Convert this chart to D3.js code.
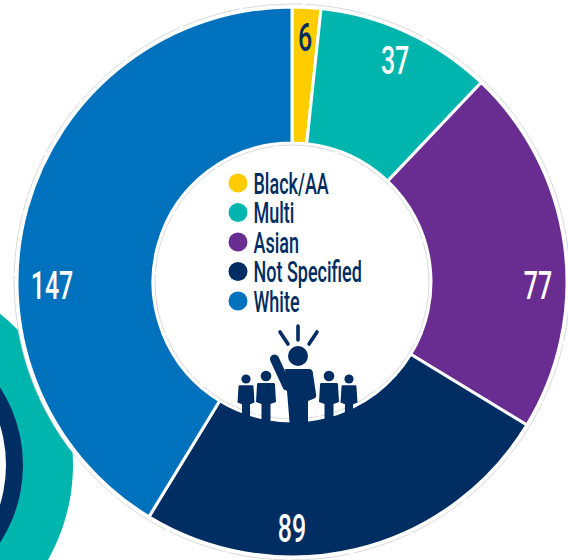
<!DOCTYPE html>
<html>
<head>
<meta charset="utf-8">
<script src="https://cdnjs.cloudflare.com/ajax/libs/d3/7.8.5/d3.min.js"></script>
<style>
html, body { margin: 0; padding: 0; background: #fff; overflow: hidden; }
text { font-family: Roboto, "Liberation Sans", sans-serif; }
</style>
</head>
<body>
<div id="svg"></div>
<script>
/* jshint esversion: 6 */
const categories = ["Black/AA", "Multi", "Asian", "Not Specified", "White"];
const values = [6, 37, 77, 89, 147];
const sliceColors = ["#FFCC00", "#00B5AD", "#692C90", "#002D62", "#0071BC"];
const labelColors = ["#002D62", "#fff", "#fff", "#fff", "#fff"];

const width = 568,
			height = 560;
const cx = 292,
			cy = 282,
			outerRadius = 275,
			innerRadius = 139;

const svg = d3.select("#svg").append("svg")
		.attr("width", width)
		.attr("height", height)
		.style("display", "block");

//// Rings cropped by the left edge, behind the donut
const rings = svg.append("g").attr("transform", "translate(-120, 465)");
rings.append("circle").attr("r", 193).attr("fill", "#00B5AD");
rings.append("circle").attr("r", 143).attr("fill", "#002D62");
rings.append("circle").attr("cx", -10).attr("r", 136).attr("fill", "#fff");

//// Donut
const pie = d3.pie().sort(null).value(d => d);
const arcs = pie(values);
const arc = d3.arc().innerRadius(innerRadius).outerRadius(outerRadius);
const chart = svg.append("g").attr("transform", `translate(${cx}, ${cy})`);

chart.append("circle").attr("r", outerRadius + 3).attr("fill", "#fff")
		.attr("stroke", "#cfcfcf").attr("stroke-width", 0.8).attr("stroke-dasharray", "60 3");

chart.selectAll(".slice")
	.data(arcs)
	.enter().append("path")
		.attr("class", "slice")
		.attr("d", arc)
		.attr("fill", (d, i) => sliceColors[i])
		.attr("stroke", "#fff")
		.attr("stroke-width", 3);

chart.append("circle").attr("r", innerRadius - 2).attr("fill", "#fff")
		.attr("stroke", "#cfcfcf").attr("stroke-width", 0.8).attr("stroke-dasharray", "60 3");

// Big slices keep their number on the nearest axis, small ones at mid slice
function labelAngle(d) {
	const mid = (d.startAngle + d.endAngle) / 2;
	if (d.endAngle - d.startAngle < 1) return mid;
	return Math.round(mid / (Math.PI / 2)) * (Math.PI / 2);
}

chart.selectAll(".value")
	.data(arcs)
	.enter().append("text")
		.attr("class", "value")
		.attr("transform", d => {
			const a = labelAngle(d);
			const r = outerRadius - 29 - (d.value >= 100 ? 6 : 0); // three digits need more room
			const x = r * Math.sin(a);
			const y = -r * Math.cos(a) + 3 * Math.abs(Math.sin(a));
			return `translate(${x}, ${y}) scale(0.64, 1)`;
		})
		.attr("text-anchor", "middle")
		.attr("dy", "0.36em")
		.attr("font-size", 39)
		.attr("font-weight", 500)
		.attr("fill", (d, i) => labelColors[i])
		.text(d => d.value);

//// Legend
const legendY = d3.scalePoint().domain(categories).range([183, 301]);
const legend = svg.selectAll(".legend")
	.data(categories)
	.enter().append("g")
		.attr("class", "legend")
		.attr("transform", d => `translate(238, ${legendY(d)})`);
legend.append("circle")
		.attr("r", 9.5)
		.attr("fill", (d, i) => sliceColors[i]);
legend.append("text")
		.attr("transform", "translate(15.5, 0) scale(0.6, 1)")
		.attr("dy", "0.36em")
		.attr("font-size", 30)
		.attr("font-weight", 500)
		.attr("fill", "#002D62")
		.text(d => d);

//// People icon
const navy = "#002D62";
const icon = svg.append("g").attr("fill", navy);
icon.append("circle").attr("cx", 298).attr("cy", 356).attr("r", 10);
icon.append("path")
		.attr("d", "M298 326V340M280 332L288 344M317 332L309 344")
		.attr("fill", "none")
		.attr("stroke", navy)
		.attr("stroke-width", 3.6)
		.attr("stroke-linecap", "round");
icon.append("path") // raised arm
		.attr("d", "M274.500 359L287 386")
		.attr("fill", "none")
		.attr("stroke", navy)
		.attr("stroke-width", 9)
		.attr("stroke-linecap", "round");
icon.append("path")
		.attr("d", "M285 369H309Q313 369 313 374L316 394Q317 398 313 399L308 401V428H290L287 391Z");
[[246, 379, 4.6, 7.5, 0.9], [266, 376, 5.3, 9, 1], [329, 376, 5.3, 9, 1], [349, 379, 4.6, 7.5, 0.9]].forEach(p => {
	const x = p[0], y = p[1], w = p[3], k = p[4];
	icon.append("circle").attr("cx", x).attr("cy", y).attr("r", p[2]);
	icon.append("path")
			.attr("d", `M${x - w + 1} ${y + 7 * k}H${x + w - 1}Q${x + w} ${y + 7 * k} ${x + w} ${y + 9 * k}L${x + w + 1} ${y + 26 * k}L${x + 4.5 * k} ${y + 28 * k}V${y + 46}H${x - 4.5 * k}V${y + 28 * k}L${x - w - 1} ${y + 26 * k}L${x - w} ${y + 9 * k}Q${x - w} ${y + 7 * k} ${x - w + 1} ${y + 7 * k}Z`);
});
</script>
</body>
</html>
